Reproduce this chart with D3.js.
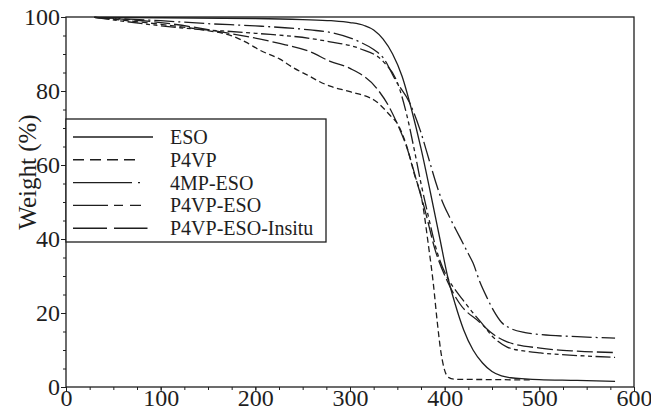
<!DOCTYPE html>
<html>
<head>
<meta charset="utf-8">
<script src="https://cdn.jsdelivr.net/npm/d3@7"></script>
<style>
  html, body { margin: 0; padding: 0; background: #fff; }
  svg { display: block; }
  text { font-family: "Liberation Serif", "Times New Roman", serif; fill: #1e1e1e; }
</style>
</head>
<body>
<svg id="chart" width="651" height="412"></svg>
<script>
// TGA curves: temperature (°C) vs remaining weight (%)
const esoT   = [30, 100, 200, 250, 280, 300, 315, 325, 335, 345, 355, 365, 375, 385, 395, 403, 411, 420, 430, 440, 450, 460, 470, 485, 500, 540, 580];
const esoW   = [99.9, 99.8, 99.6, 99.3, 99.0, 98.5, 97.7, 96.5, 94.0, 90.0, 84.0, 75.0, 64.5, 52.5, 40.0, 30.0, 22.5, 15.5, 10.0, 6.5, 4.2, 3.0, 2.5, 2.2, 2.0, 1.8, 1.5];

const p4vpT  = [30, 100, 150, 173, 190, 205, 226, 240, 258, 268, 279, 300, 328, 342, 351, 360, 368, 376, 383, 388, 392, 396, 400, 404, 410, 450, 490];
const p4vpW  = [99.9, 98.0, 96.3, 95.1, 93.2, 91.0, 88.6, 86.3, 83.9, 82.5, 81.3, 79.8, 77.1, 73.5, 70.8, 65.0, 57.5, 50.5, 38.0, 28.0, 18.0, 9.5, 4.5, 2.6, 2.1, 2.0, 1.9];

const mpT    = [30, 100, 150, 200, 258, 280, 310, 325, 335, 349, 363, 374, 384, 391, 397, 405, 416, 425, 430, 437, 445, 452, 460, 470, 485, 500, 540, 580];
const mpW    = [99.9, 99.0, 98.2, 97.6, 96.5, 95.8, 93.3, 91.2, 89.0, 82.5, 76.8, 69.5, 61.0, 55.0, 50.5, 46.0, 40.5, 36.0, 33.5, 28.5, 24.0, 20.5, 17.5, 15.8, 14.7, 14.2, 13.6, 13.2];

const pEsoT  = [30, 120, 200, 258, 279, 310, 335, 351, 360, 368, 375, 382, 392, 403, 412, 420, 430, 440, 450, 466, 485, 501, 540, 580];
const pEsoW  = [99.9, 97.1, 95.6, 94.2, 93.3, 91.5, 88.0, 81.6, 73.5, 64.0, 55.0, 47.0, 36.5, 29.5, 26.0, 23.3, 20.0, 17.0, 13.8, 10.8, 9.7, 9.2, 8.5, 8.0];

const insT   = [30, 100, 170, 223, 258, 279, 300, 328, 342, 349, 361, 370, 379, 390, 403, 416, 437, 450, 466, 501, 540, 580];
const insW   = [99.9, 98.5, 95.7, 93.0, 90.6, 88.0, 86.1, 80.8, 75.4, 71.7, 64.0, 56.0, 48.0, 37.0, 28.5, 22.5, 17.5, 14.5, 12.2, 10.5, 9.7, 9.3];

const seriesNames = ["ESO", "P4VP", "4MP-ESO", "P4VP-ESO", "P4VP-ESO-Insitu"];
const xTicks = [0, 100, 200, 300, 400, 500, 600];
const yTicks = [0, 20, 40, 60, 80, 100];
const yTitle = "Weight (%)";

const series = [
  { name: seriesNames[0], t: esoT,  w: esoW,  dash: null,                legendDash: null },
  { name: seriesNames[1], t: p4vpT, w: p4vpW, dash: "6,3.5",             legendDash: "11,6" },
  { name: seriesNames[2], t: mpT,   w: mpW,   dash: "20,4,2,4",          legendDash: "59,6,2,20" },
  { name: seriesNames[3], t: pEsoT, w: pEsoW, dash: "15,3.5,4,3.5,4,3.5", legendDash: "35,6,9,7,11,20" },
  { name: seriesNames[4], t: insT,  w: insW,  dash: "16,4",              legendDash: "34,7,34,20" }
];

const svg = d3.select("#chart");
const ink = "#1e1e1e";

const x = d3.scaleLinear().domain([0, 600]).range([66, 634]);
const y = d3.scaleLinear().domain([0, 100]).range([387, 17]);

// minor ticks
svg.append("g")
  .attr("transform", `translate(0,${y(0)})`)
  .call(d3.axisBottom(x).tickValues(d3.range(0, 601, 25)).tickSize(3).tickFormat(""))
  .call(g => g.select(".domain").remove())
  .call(g => g.selectAll("line").attr("stroke", ink));
svg.append("g")
  .attr("transform", `translate(${x(0)},0)`)
  .call(d3.axisLeft(y).tickValues(d3.range(0, 101, 5)).tickSize(3).tickFormat(""))
  .call(g => g.select(".domain").remove())
  .call(g => g.selectAll("line").attr("stroke", ink));

// major ticks with labels
svg.append("g")
  .attr("transform", `translate(0,${y(0)})`)
  .call(d3.axisBottom(x).tickValues(xTicks).tickSize(5).tickPadding(-3).tickFormat(d3.format("d")))
  .call(g => g.select(".domain").remove())
  .call(g => g.selectAll("line").attr("stroke", ink))
  .call(g => g.selectAll("text").attr("font-size", 24).attr("font-family", "Liberation Serif").attr("fill", ink));
svg.append("g")
  .attr("transform", `translate(${x(0)},0)`)
  .call(d3.axisLeft(y).tickValues(yTicks).tickSize(5).tickPadding(1).tickFormat(d3.format("d")))
  .call(g => g.select(".domain").remove())
  .call(g => g.selectAll("line").attr("stroke", ink))
  .call(g => g.selectAll("text").attr("font-size", 24).attr("font-family", "Liberation Serif").attr("fill", ink));

// plot frame
svg.append("rect")
  .attr("x", x(0)).attr("y", y(100))
  .attr("width", x(600) - x(0)).attr("height", y(0) - y(100))
  .attr("fill", "none").attr("stroke", ink).attr("stroke-width", 1.3);

// y title
svg.append("text")
  .attr("transform", `translate(36,172) rotate(-90)`)
  .attr("text-anchor", "middle")
  .attr("font-size", 25)
  .text(yTitle);

// curves
const line = d3.line()
  .x(d => x(d[0]))
  .y(d => y(d[1]))
  .curve(d3.curveMonotoneX);

svg.append("g").selectAll("path")
  .data(series)
  .join("path")
  .attr("d", s => line(s.t.map((t, i) => [t, s.w[i]])))
  .attr("fill", "none")
  .attr("stroke", ink)
  .attr("stroke-width", 1.3)
  .attr("stroke-dasharray", s => s.dash);

// legend
const lg = svg.append("g");
lg.append("rect")
  .attr("x", x(0)).attr("y", 119)
  .attr("width", 326 - x(0)).attr("height", 123)
  .attr("fill", "#fff").attr("stroke", ink).attr("stroke-width", 1.3);

const legendEnds = [153, 137, 141.5, 142, 147.5];
series.forEach((s, i) => {
  const yy = 137 + i * 22.8;
  lg.append("line")
    .attr("x1", 73).attr("x2", legendEnds[i])
    .attr("y1", yy).attr("y2", yy)
    .attr("stroke", ink).attr("stroke-width", 1.4)
    .attr("stroke-dasharray", s.legendDash);
  lg.append("text")
    .attr("x", 170).attr("y", yy)
    .attr("dy", "0.35em")
    .attr("font-size", 20)
    .text(s.name);
});
</script>
</body>
</html>
